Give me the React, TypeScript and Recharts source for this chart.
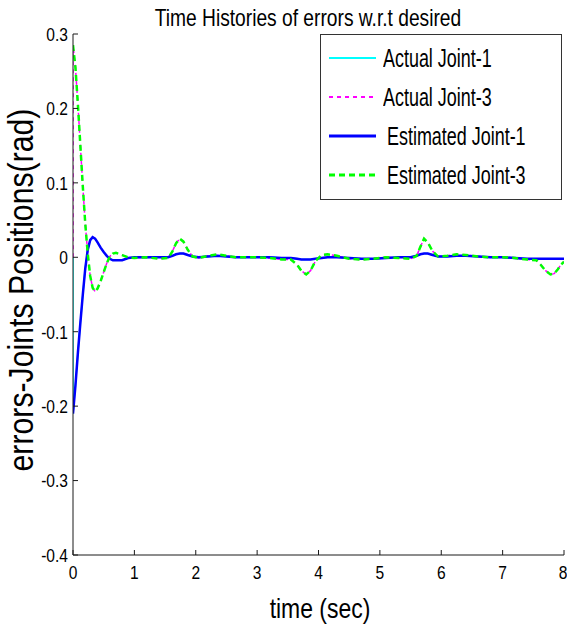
import React from 'react';
import { LineChart, Line, XAxis, YAxis, Legend } from 'recharts';

// sample times shared by the estimated curves (sec)
const time = [
  0, 0.04, 0.08, 0.12, 0.16, 0.2, 0.24, 0.28, 0.32, 0.36, 0.4, 0.45, 0.5, 0.55, 0.6, 0.65, 0.7, 0.8, 0.9, 1.0,
  1.2, 1.4, 1.55, 1.62, 1.68, 1.74, 1.8, 1.87, 1.95, 2.05, 2.2, 2.35, 2.5, 2.65, 2.8, 3.0, 3.2, 3.4, 3.55, 3.65,
  3.72, 3.8, 3.87, 3.95, 4.05, 4.15, 4.3, 4.5, 4.7, 4.9, 5.1, 5.3, 5.5, 5.6, 5.66, 5.72, 5.78, 5.86, 5.95, 6.1,
  6.25, 6.4, 6.6, 6.8, 7.0, 7.2, 7.4, 7.55, 7.62, 7.7, 7.78, 7.84, 7.9, 7.95, 8.0,
];

const estimatedJoint1 = [
  -0.21, -0.172, -0.128, -0.088, -0.05, -0.015, 0.01, 0.023, 0.027, 0.025, 0.02, 0.013, 0.007, 0.002, -0.002, -0.004, -0.004, -0.004, -0.001, 0,
  0, 0, 0, 0.002, 0.004, 0.005, 0.005, 0.003, 0.001, 0, 0.001, 0.002, 0.001, 0, 0, 0, 0, -0.001, -0.001, -0.002,
  -0.003, -0.003, -0.003, -0.002, -0.001, 0, 0, -0.001, -0.002, -0.002, -0.001, 0, 0, 0.002, 0.004, 0.005, 0.005, 0.003, 0.001, 0.001,
  0.002, 0.002, 0.001, 0, 0, -0.001, -0.002, -0.002, -0.002, -0.002, -0.002, -0.002, -0.002, -0.002, -0.002,
];

const estimatedJoint3 = [
  0.285, 0.255, 0.205, 0.15, 0.095, 0.045, 0.005, -0.025, -0.041, -0.046, -0.042, -0.032, -0.02, -0.008, 0.001, 0.005, 0.006, 0.003, 0, -0.001,
  0, -0.002, -0.001, 0.008, 0.019, 0.025, 0.021, 0.01, 0.001, -0.001, 0.002, 0.004, 0.002, 0, 0, 0, -0.001, -0.003, -0.003, -0.01,
  -0.018, -0.023, -0.018, -0.005, 0.003, 0.004, 0.002, -0.002, -0.003, -0.002, 0, -0.001, -0.002, 0.002, 0.014, 0.025, 0.02, 0.008, 0.001, 0.002,
  0.004, 0.003, 0.001, 0, 0, -0.001, -0.003, -0.004, -0.01, -0.018, -0.023, -0.022, -0.016, -0.01, -0.006,
];

// the actual errors start from zero and jump at t = 0
const actualTime = [
  0, 0, 0.04, 0.08, 0.12, 0.16, 0.2, 0.24, 0.28, 0.32, 0.36, 0.4, 0.45, 0.5, 0.55, 0.6, 0.65, 0.7, 0.8, 0.9, 1.0,
  1.2, 1.4, 1.55, 1.62, 1.68, 1.74, 1.8, 1.87, 1.95, 2.05, 2.2, 2.35, 2.5, 2.65, 2.8, 3.0, 3.2, 3.4, 3.55, 3.65,
  3.72, 3.8, 3.87, 3.95, 4.05, 4.15, 4.3, 4.5, 4.7, 4.9, 5.1, 5.3, 5.5, 5.6, 5.66, 5.72, 5.78, 5.86, 5.95, 6.1,
  6.25, 6.4, 6.6, 6.8, 7.0, 7.2, 7.4, 7.55, 7.62, 7.7, 7.78, 7.84, 7.9, 7.95, 8.0,
];

const actualJoint1 = [
  0, -0.21, -0.172, -0.128, -0.088, -0.05, -0.015, 0.01, 0.023, 0.027, 0.025, 0.02, 0.013, 0.007, 0.002, -0.002, -0.004, -0.004, -0.004, -0.001, 0,
  0, 0, 0, 0.002, 0.004, 0.005, 0.005, 0.003, 0.001, 0, 0.001, 0.002, 0.001, 0, 0, 0, 0, -0.001, -0.001, -0.002,
  -0.003, -0.003, -0.003, -0.002, -0.001, 0, 0, -0.001, -0.002, -0.002, -0.001, 0, 0, 0.002, 0.004, 0.005, 0.005, 0.003, 0.001, 0.001,
  0.002, 0.002, 0.001, 0, 0, -0.001, -0.002, -0.002, -0.002, -0.002, -0.002, -0.002, -0.002, -0.002, -0.002,
];

const actualJoint3 = [
  0, 0.285, 0.255, 0.205, 0.15, 0.095, 0.045, 0.005, -0.025, -0.041, -0.046, -0.042, -0.032, -0.02, -0.008, 0.001, 0.005, 0.006, 0.003, 0, -0.001,
  0, -0.002, -0.001, 0.008, 0.019, 0.025, 0.021, 0.01, 0.001, -0.001, 0.002, 0.004, 0.002, 0, 0, 0, -0.001, -0.003, -0.003, -0.01,
  -0.018, -0.023, -0.018, -0.005, 0.003, 0.004, 0.002, -0.002, -0.003, -0.002, 0, -0.001, -0.002, 0.002, 0.014, 0.025, 0.02, 0.008, 0.001, 0.002,
  0.004, 0.003, 0.001, 0, 0, -0.001, -0.003, -0.004, -0.01, -0.018, -0.023, -0.022, -0.016, -0.01, -0.006,
];

const xTicks = [0, 1, 2, 3, 4, 5, 6, 7, 8];
const yTicks = [-0.4, -0.3, -0.2, -0.1, 0, 0.1, 0.2, 0.3];

const toRows = (ts: number[], vs: number[]) => ts.map((t, i) => ({ t, v: vs[i] }));

const series = [
  { name: 'Actual Joint-1', color: '#00FFFF', width: 1.5, dash: undefined, data: toRows(actualTime, actualJoint1), indent: 0 },
  { name: 'Actual Joint-3', color: '#FF00FF', width: 1.5, dash: '4 4', data: toRows(actualTime, actualJoint3), indent: 0 },
  { name: 'Estimated Joint-1', color: '#0000FF', width: 2.5, dash: undefined, data: toRows(time, estimatedJoint1), indent: 4 },
  { name: 'Estimated Joint-3', color: '#00FF00', width: 2.5, dash: '6 4', data: toRows(time, estimatedJoint3), indent: 4 },
];

// no narrow face is installed, so Arial-metric text is squeezed horizontally
const FONT = "'Liberation Sans', Arial, sans-serif";
const SQUEEZE = 0.82;
const AXIS = '#1a1a1a';

const YTick = (props: any) => {
  const { x, y, payload } = props;
  return (
    <text transform={`translate(${x},${y}) scale(${SQUEEZE},1)`} textAnchor="end" dy="0.36em" fontFamily={FONT} fontSize={19} fill="#000">
      {String(payload.value)}
    </text>
  );
};

const XTick = (props: any) => {
  const { x, y, payload } = props;
  return (
    <text transform={`translate(${x},${y}) scale(${SQUEEZE},1)`} textAnchor="middle" dy="0.72em" fontFamily={FONT} fontSize={19} fill="#000">
      {String(payload.value)}
    </text>
  );
};

function LegendBox() {
  return (
    <div style={{ position: 'absolute', left: 0, top: 0, width: 240, height: 161, border: '1px solid #333', background: '#fff', paddingTop: 3 }}>
      {series.map((s) => (
        <div key={s.name} style={{ display: 'flex', alignItems: 'center', height: 39 }}>
          <svg width={56} height={10} style={{ flex: 'none' }}>
            <line x1={8} y1={5} x2={55} y2={5} stroke={s.color} strokeWidth={s.width + 0.5} strokeDasharray={s.dash} />
          </svg>
          <span
            style={{
              display: 'inline-block',
              fontFamily: FONT,
              fontSize: 26,
              lineHeight: '30px',
              color: '#000',
              marginLeft: 6 + s.indent,
              whiteSpace: 'nowrap',
              transform: 'scaleX(0.69)',
              transformOrigin: 'left center',
            }}
          >
            {s.name}
          </span>
        </div>
      ))}
    </div>
  );
}

export default function App() {
  return (
    <div style={{ position: 'absolute', left: 0, top: 0, width: 567, height: 628, background: '#fff' }}>
      <LineChart width={567} height={628} margin={{ top: 34, right: 3, bottom: 0, left: 0 }}>
        <XAxis
          dataKey="t"
          type="number"
          domain={[0, 8]}
          ticks={xTicks}
          allowDataOverflow
          height={73}
          stroke={AXIS}
          tickSize={-5}
          tickMargin={15}
          tick={<XTick />}
        />
        <XAxis
          xAxisId="top"
          orientation="top"
          type="number"
          domain={[0, 8]}
          ticks={xTicks}
          allowDataOverflow
          height={0}
          stroke={AXIS}
          tickSize={-5}
          tick={false}
        />
        <YAxis
          type="number"
          domain={[-0.4, 0.3]}
          ticks={yTicks}
          allowDataOverflow
          width={73}
          stroke={AXIS}
          tickSize={-5}
          tickMargin={10}
          tick={<YTick />}
        />
        <YAxis
          yAxisId="right"
          orientation="right"
          type="number"
          domain={[-0.4, 0.3]}
          ticks={yTicks}
          allowDataOverflow
          width={0}
          stroke={AXIS}
          tickSize={-5}
          tick={false}
        />
        <Legend
          content={() => <LegendBox />}
          wrapperStyle={{ position: 'absolute', left: 320, top: 34, width: 0, height: 0 }}
        />
        {series.map((s) => (
          <Line
            key={s.name}
            data={s.data}
            dataKey="v"
            name={s.name}
            type="linear"
            stroke={s.color}
            strokeWidth={s.width}
            strokeDasharray={s.dash}
            dot={false}
            activeDot={false}
            isAnimationActive={false}
          />
        ))}
      </LineChart>
      <svg width={567} height={628} style={{ position: 'absolute', left: 0, top: 0, pointerEvents: 'none' }}>
        <text transform={`translate(308,26) scale(0.8,1)`} textAnchor="middle" fontFamily={FONT} fontSize={24} fill="#000">
          Time Histories of errors w.r.t desired
        </text>
        <text transform={`translate(320,618) scale(${SQUEEZE},1)`} textAnchor="middle" fontFamily={FONT} fontSize={28} fill="#000">
          time (sec)
        </text>
        <text transform={`translate(33,290) rotate(-90) scale(0.84,1)`} textAnchor="middle" fontFamily={FONT} fontSize={36} fill="#000">
          errors-Joints Positions(rad)
        </text>
      </svg>
    </div>
  );
}
